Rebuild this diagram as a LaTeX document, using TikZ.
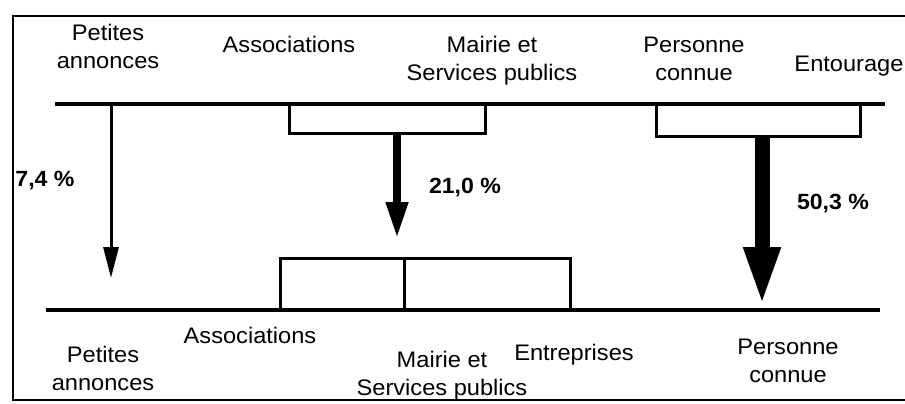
\documentclass[tikz,border=0pt]{standalone}
\usepackage{fontspec}
\setmainfont{Liberation Sans}[FakeStretch=1.05]
\usetikzlibrary{arrows.meta,positioning}

\begin{document}
\begin{tikzpicture}
  [x=1pt,y=-1pt,every node/.style={inner sep=0pt,anchor=north,align=center,
     font=\fontsize{22.5}{27.5}\selectfont},
   pct/.style={font=\fontsize{22}{27}\selectfont\bfseries},
   rule/.style={line width=3.5pt},
   brk/.style={line width=3pt}]
  \useasboundingbox (0,0) rectangle (905,404);
  % frame, open on the right
  \draw[line width=1.8pt] (905,16) -- (13,16) -- (13,400) -- (905,400);

  % sources
  \node (pa1) at (108,24)  {Petites\\annonces};
  \node (as1) at (289,36)  {Associations};
  \node (ma1) at (492,36)  {Mairie et\\Services publics};
  \node (pc1) at (694,37)  {Personne\\connue};
  \node (en1) at (849,56)  {Entourage};

  % outcomes
  \node (pa2) at (103,346) {Petites\\annonces};
  \node (as2) at (250,327) {Associations};
  \node (ma2) at (442,351) {Mairie et\\Services publics};
  \node (ep2) at (574,344) {Entreprises};
  \node (pc2) at (788,339) {Personne\\connue};

  % shares
  \node[pct] (p74) at (45,171)  {7,4 \%};
  \node[pct] (p21) at (465,178) {21,0 \%};
  \node[pct] (p50) at (833,194) {50,3 \%};

  \coordinate (uL) at (55,104);  \coordinate (uR) at (885,104);
  \coordinate (lL) at (46,310);  \coordinate (lR) at (880,310);
  \draw[rule] (uL) -- (uR);
  \draw[rule] (lL) -- (lR);

  % upper brackets
  \coordinate (b1a) at (289,104); \coordinate (b1b) at (289,133);
  \coordinate (b1c) at (485,133); \coordinate (b1d) at (485,104);
  \coordinate (b2a) at (656,104); \coordinate (b2b) at (656,136);
  \coordinate (b2c) at (860,136); \coordinate (b2d) at (860,104);
  \draw[brk] (b1a) -- (b1b) -- (b1c) -- (b1d);
  \draw[brk] (b2a) -- (b2b) -- (b2c) -- (b2d);

  % lower bracket
  \coordinate (c1) at (280,310); \coordinate (c1t) at (280,258);
  \coordinate (c2) at (404,310); \coordinate (c2t) at (404,258);
  \coordinate (c3) at (570,310); \coordinate (c3t) at (570,258);
  \draw[brk] (c1) -- (c1t) -- (c3t) -- (c3);
  \draw[brk] (c2t) -- (c2);

  % flows
  \coordinate (s1) at (111,106); \coordinate (t1) at (111,278);
  \coordinate (s2) at (397,133); \coordinate (t2) at (397,238);
  \coordinate (s3) at (762,136); \coordinate (t3) at (762,307);
  \draw[line width=3pt,-{Triangle[length=31pt,width=15pt]}] (s1) -- (t1);
  \draw[line width=7.5pt,-{Triangle[length=36pt,width=21pt]}] (s2) -- (t2);
  \draw[line width=15pt,-{Triangle[length=60pt,width=33pt]}] (s3) -- (t3);
\end{tikzpicture}
\end{document}
